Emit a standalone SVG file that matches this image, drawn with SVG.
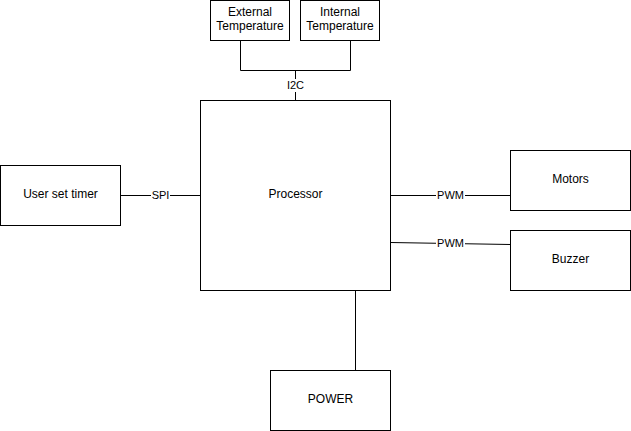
<svg xmlns="http://www.w3.org/2000/svg" width="631" height="431" viewBox="0 0 631 431">
<style>
.box{fill:#fff;stroke:#000;stroke-width:1}
.t{font-family:"Liberation Sans",Arial,sans-serif;font-size:12px;fill:#000;text-anchor:middle}
.lbl{font-family:"Liberation Sans",Arial,sans-serif;font-size:11px;fill:#000;text-anchor:middle}
.ln{fill:none;stroke:#000;stroke-width:1}
.bg{fill:#fff}
</style>
<rect width="631" height="431" fill="#fff"/>
<g id="connectors">
<path class="ln" d="M240.5 40.5 V70.5 H350.5 V40.5"/>
<path class="ln" d="M295.5 70.5 V100.5"/>
<path class="ln" d="M120.5 195.5 H200.5"/>
<path class="ln" d="M390.5 195.5 H510.5"/>
<path class="ln" d="M390.5 242.5 L510.5 244.5"/>
<path class="ln" d="M355.5 290.5 V370.5"/>
<rect class="bg" x="286" y="79" width="19" height="13"/>
<text class="lbl" x="295.5" y="89">I2C</text>
<rect class="bg" x="151" y="189" width="19" height="13"/>
<text class="lbl" x="160.5" y="199">SPI</text>
<rect class="bg" x="436" y="189" width="29" height="13"/>
<text class="lbl" x="450.5" y="199">PWM</text>
<rect class="bg" x="436" y="237" width="29" height="13"/>
<text class="lbl" x="450.5" y="247">PWM</text>
</g>
<g id="ext">
<rect class="box" x="210.5" y="0.5" width="79" height="40"/>
<text class="t" x="250" y="16">External</text>
<text class="t" x="250" y="30">Temperature</text>
</g>
<g id="int">
<rect class="box" x="300.5" y="0.5" width="79" height="40"/>
<text class="t" x="340" y="16">Internal</text>
<text class="t" x="340" y="30">Temperature</text>
</g>
<g id="processor">
<rect class="box" x="200.5" y="100.5" width="190" height="190"/>
<text class="t" x="295.5" y="198">Processor</text>
</g>
<g id="timer">
<rect class="box" x="0.5" y="165.5" width="120" height="60"/>
<text class="t" x="60.5" y="198">User set timer</text>
</g>
<g id="motors">
<rect class="box" x="510.5" y="150.5" width="120" height="60"/>
<text class="t" x="570.5" y="183">Motors</text>
</g>
<g id="buzzer">
<rect class="box" x="510.5" y="230.5" width="120" height="60"/>
<text class="t" x="570.5" y="263">Buzzer</text>
</g>
<g id="power">
<rect class="box" x="270.5" y="370.5" width="120" height="60"/>
<text class="t" x="330.5" y="403">POWER</text>
</g>
</svg>
